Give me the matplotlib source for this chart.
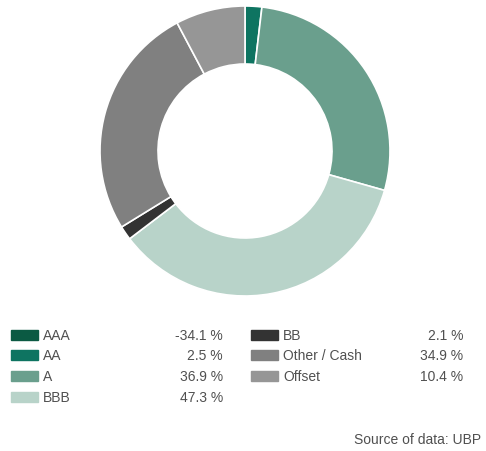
import matplotlib.pyplot as plt
from matplotlib.patches import Rectangle

# Ratings breakdown (AAA is negative, so it only appears in the legend)
labels = ['AAA', 'AA', 'A', 'BBB', 'BB', 'Other / Cash', 'Offset']
values = [-34.1, 2.5, 36.9, 47.3, 2.1, 34.9, 10.4]
colors = ['#0b5a43', '#0e7461', '#6a9f8d', '#b8d3c9', '#333333', '#808080', '#969696']
source = 'Source of data: UBP'

W, H = 486, 452
fig = plt.figure(figsize=(W / 100, H / 100), dpi=100)
plt.rcParams['font.family'] = ['Liberation Sans', 'DejaVu Sans']

# Donut
cx, cy, r = 245, 152, 145
ax = fig.add_axes([(cx - r) / W, (H - cy - r) / H, 2 * r / W, 2 * r / H])
pos = [(v, c) for v, c in zip(values, colors) if v > 0]
ax.pie([p[0] for p in pos], colors=[p[1] for p in pos], startangle=90,
       counterclock=False, radius=1,
       wedgeprops=dict(width=0.4, edgecolor='white', linewidth=1.2))
ax.set_xlim(-1.0, 1.0)
ax.set_ylim(-1.0, 1.0)
ax.set_aspect('auto')
ax.axis('off')

# Legend drawn by hand in two columns
rows_y = [336, 356, 377, 398]
col_x = [(11, 43, 223), (251, 283, 463)]
text_color = '#505050'
for i, (lab, val, col) in enumerate(zip(labels, values, colors)):
    c = 0 if i < 4 else 1
    y = rows_y[i if i < 4 else i - 4]
    sx, lx, vx = col_x[c]
    fig.patches.append(Rectangle((sx / W, (H - y - 5) / H), 27 / W, 10 / H,
                                 transform=fig.transFigure, color=col))
    fig.text(lx / W, (H - y) / H, lab, fontsize=10, color=text_color,
             va='center', ha='left')
    fig.text(vx / W, (H - y) / H, f'{val:.1f} %', fontsize=10,
             color=text_color, va='center', ha='right')

fig.text(481 / W, (H - 440) / H, source, fontsize=10, color=text_color,
         va='center', ha='right')

fig.savefig('out.png', dpi=100)
